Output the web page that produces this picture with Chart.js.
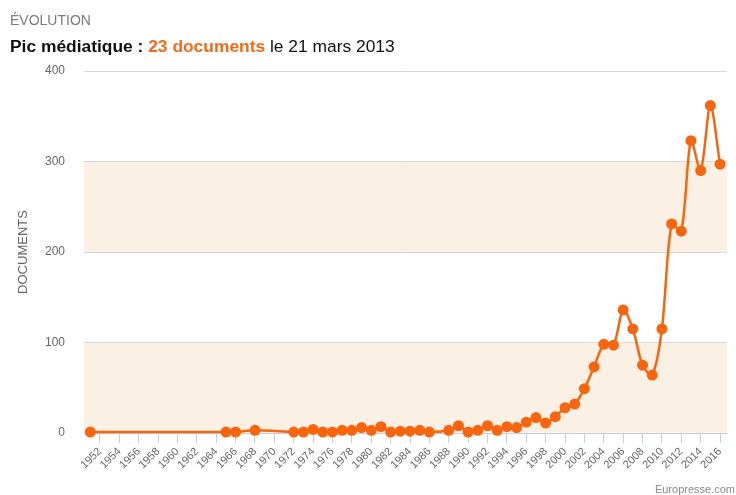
<!DOCTYPE html>
<html>
<head>
<meta charset="utf-8">
<script src="https://cdn.jsdelivr.net/npm/chart.js@4/dist/chart.umd.min.js"></script>
<style>
  html, body { margin: 0; padding: 0; background: #fff; }
  #wrap { position: relative; width: 736px; height: 495px; overflow: hidden; font-family: "Liberation Sans", Arial, sans-serif; }
  #cv { position: absolute; left: 0; top: 0; }
  #kicker { position: absolute; left: 10px; top: 12px; font-size: 14px; color: #7a7a7a; white-space: nowrap; }
  #headline { position: absolute; left: 10px; top: 36px; font-size: 17.4px; color: #111; white-space: nowrap; }
  #headline b { font-weight: bold; }
  #headline .hl { color: #f26a1b; font-weight: bold; }
  #credit { position: absolute; right: 1px; top: 483px; font-size: 11px; color: #8a8a8a; white-space: nowrap; }
</style>
</head>
<body>
<div id="wrap">
  <canvas id="cv" width="736" height="495"></canvas>
  <div id="kicker">ÉVOLUTION</div>
  <div id="headline"><b>Pic médiatique : </b><span class="hl">23 documents</span> le 21 mars 2013</div>
  <div id="credit">Europresse.com</div>
</div>
<script>
// ---- data ----
const years = [1951, 1965, 1966, 1968, 1972, 1973, 1974, 1975, 1976, 1977, 1978, 1979, 1980, 1981, 1982, 1983, 1984, 1985, 1986,
               1988, 1989, 1990, 1991, 1992, 1993, 1994, 1995, 1996, 1997, 1998, 1999, 2000, 2001, 2002, 2003, 2004, 2005,
               2006, 2007, 2008, 2009, 2010, 2011, 2012, 2013, 2014, 2015, 2016];
const documents = [1, 1, 1, 3, 1, 1, 4, 1, 1, 3, 3, 6, 3, 7, 1, 2, 2, 3, 1,
                   3, 8, 1, 3, 8, 3, 7, 6, 12, 17, 11, 18, 28, 32, 49, 73, 98, 97,
                   136, 115, 75, 64, 115, 231, 223, 323, 290, 362, 297];
const xTickYears = [1952, 1954, 1956, 1958, 1960, 1962, 1964, 1966, 1968, 1970, 1972, 1974, 1976, 1978, 1980, 1982, 1984,
                    1986, 1988, 1990, 1992, 1994, 1996, 1998, 2000, 2002, 2004, 2006, 2008, 2010, 2012, 2014, 2016];
const yTicks = [0, 100, 200, 300, 400];
const bandRanges = [[0, 100], [200, 300]];

const ORANGE = '#f7650f';
const FONT = '"Liberation Sans", Arial, sans-serif';

const plotBands = {
  id: 'plotBands',
  beforeDraw(chart) {
    const { ctx, chartArea, scales } = chart;
    ctx.save();
    ctx.fillStyle = '#fbf0e4';
    bandRanges.forEach(([a, b]) => {
      const y1 = scales.y.getPixelForValue(b);
      const y2 = scales.y.getPixelForValue(a);
      ctx.fillRect(chartArea.left, y1, chartArea.right - chartArea.left, y2 - y1);
    });
    ctx.restore();
  }
};

new Chart(document.getElementById('cv'), {
  type: 'line',
  data: {
    datasets: [{
      data: years.map((y, i) => ({ x: y, y: documents[i] })),
      borderColor: ORANGE,
      backgroundColor: ORANGE,
      borderWidth: 2.5,
      pointRadius: 5.5,
      pointBorderWidth: 0,
      pointBackgroundColor: ORANGE,
      tension: 0.3,
      fill: false,
      clip: false
    }]
  },
  options: {
    responsive: false,
    animation: false,
    devicePixelRatio: 1,
    layout: { padding: { top: 71, right: 9, left: 0, bottom: 0 } },
    plugins: { legend: { display: false }, tooltip: { enabled: false }, title: { display: false } },
    scales: {
      x: {
        type: 'linear',
        min: 1950.35,
        max: 2016.72,
        afterBuildTicks(scale) { scale.ticks = xTickYears.map(v => ({ value: v })); },
        afterFit(scale) { scale.height = 62; },
        grid: { display: true, drawOnChartArea: false, drawTicks: true, tickLength: 10, color: '#c0d0e0', lineWidth: 1 },
        border: { display: true, color: '#c0d0e0', width: 1 },
        ticks: {
          autoSkip: false,
          maxRotation: 45, minRotation: 45,
          padding: 2,
          color: '#666',
          font: { family: FONT, size: 11 },
          callback: v => String(v)
        }
      },
      y: {
        min: 0, max: 400,
        afterBuildTicks(scale) { scale.ticks = yTicks.map(v => ({ value: v })); },
        afterFit(scale) { scale.width = 84; },
        grid: { drawTicks: false, color: ctx => (ctx.tick && ctx.tick.value === 0 ? 'rgba(0,0,0,0)' : '#d8d8d8'), lineWidth: 1 },
        border: { display: false },
        ticks: { padding: 19, color: '#666', font: { family: FONT, size: 12 } },
        title: { display: true, text: 'DOCUMENTS', color: '#666', font: { family: FONT, size: 13 }, padding: { top: 16, bottom: 0 } }
      }
    }
  },
  plugins: [plotBands]
});
</script>
</body>
</html>
